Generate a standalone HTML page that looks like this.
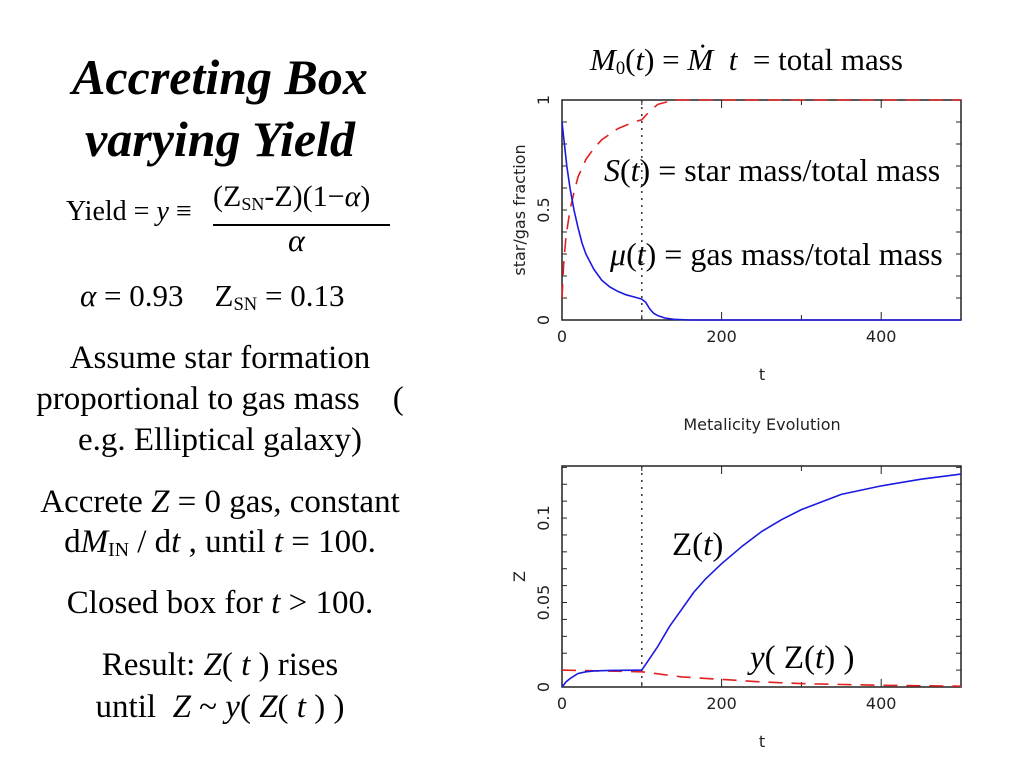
<!DOCTYPE html>
<html><head><meta charset="utf-8"><style>
body{margin:0;width:1024px;height:768px;background:#fff;position:relative;overflow:hidden;font-family:"Liberation Serif",serif;color:#000}
.t{position:absolute;white-space:nowrap}
.c{text-align:center;width:440px;left:0px}
i{font-style:italic}
sub{font-size:60%;vertical-align:-4px}
svg text{font-family:"DejaVu Sans","Liberation Sans",sans-serif;font-size:16px;fill:#222}
</style></head><body>
<div class="t c" style="top:46px;font-size:50px;font-weight:bold;font-style:italic;line-height:62px">Accreting Box<br>varying Yield</div>
<div class="t" style="left:66px;top:196px;font-size:28px">Yield = <i>y</i> ≡</div>
<div class="t" style="left:213px;top:180px;font-size:30px">(Z<sub>SN</sub>-Z)(1−<i>α</i>)</div>
<div style="position:absolute;left:213px;top:224px;width:177px;height:1.5px;background:#000"></div>
<div class="t" style="left:288px;top:222px;font-size:32px"><i>α</i></div>
<div class="t" style="left:80px;top:278px;font-size:31px"><i>α</i> = 0.93 &nbsp;&nbsp; Z<sub>SN</sub> = 0.13</div>
<div class="t c" style="top:338px;font-size:33px;line-height:41px">Assume star formation<br>proportional to gas mass &nbsp;&nbsp; (<br>e.g. Elliptical galaxy)</div>
<div class="t c" style="top:482px;font-size:33px;line-height:40px">Accrete <i>Z</i> = 0 gas, constant<br>d<i>M</i><sub>IN</sub> / d<i>t</i> , until <i>t</i> = 100.</div>
<div class="t c" style="top:585px;font-size:33px">Closed box for <i>t</i> &gt; 100.</div>
<div class="t c" style="top:644px;font-size:33px;line-height:42px">Result: <i>Z</i>( <i>t</i> ) rises<br>until &nbsp;<i>Z</i> ~ <i>y</i>( <i>Z</i>( <i>t</i> ) )</div>

<div class="t" style="left:590px;top:42px;font-size:31px"><i>M</i><sub>0</sub>(<i>t</i>) = <i>Ṁ</i> &nbsp;<i>t</i> &nbsp;= total mass</div>
<div class="t" style="left:604px;top:152px;font-size:32px"><i>S</i>(<i>t</i>) = star mass/total mass</div>
<div class="t" style="left:610px;top:236px;font-size:32px"><i>μ</i>(<i>t</i>) = gas mass/total mass</div>
<div class="t" style="left:672px;top:527px;font-size:33px">Z(<i>t</i>)</div>
<div class="t" style="left:750px;top:640px;font-size:33px"><i>y</i>( Z(<i>t</i>) )</div>

<svg id="svg" width="1024" height="768" style="position:absolute;left:0;top:0"></svg>
<script>
const tVals=[0,3,6,10,15,20,25,30,40,50,60,70,80,90,100,105,110,115,120,130,140,160,200,300,400,500];
const gasFrac=[0.9,0.8,0.7,0.6,0.5,0.42,0.35,0.3,0.23,0.18,0.15,0.13,0.115,0.105,0.095,0.08,0.05,0.03,0.02,0.008,0.003,0,0,0,0,0];
const sT=[0,2,5,10,15,20,30,40,50,70,90,100,110,120,140,200,500];
const starFrac=[0.1,0.25,0.38,0.5,0.58,0.65,0.73,0.78,0.82,0.87,0.9,0.91,0.95,0.98,1.0,1.0,1.0];
const zT=[0,5,10,20,30,40,60,100,110,120,135,150,165,180,200,225,250,275,300,350,400,450,500];
const zVals=[0,0.003,0.005,0.008,0.009,0.0095,0.0098,0.01,0.017,0.024,0.036,0.046,0.056,0.064,0.073,0.083,0.092,0.099,0.105,0.114,0.119,0.123,0.126];
const yT=[0,100,150,200,250,300,400,500];
const yVals=[0.01,0.009,0.006,0.0045,0.003,0.002,0.001,0.0005];
const xTicks=[0,200,400];
const topYTicks=[0,0.5,1];
const botYTicks=[0,0.05,0.1];
const svg=document.getElementById('svg');
const NS='http://www.w3.org/2000/svg';
function mk(tag,at){const e=document.createElementNS(NS,tag);for(const k in at)e.setAttribute(k,at[k]);svg.appendChild(e);return e;}
function panel(top,bot,ymax,yTicks,ylabel,minorY,name){
  const L=562,R=961;
  const sx=t=>L+(t/500)*(R-L);
  const sy=v=>bot-(v/ymax)*(bot-top);
  const f=mk('rect',{x:L,y:top,width:R-L,height:bot-top,fill:'none',stroke:'#222','stroke-width':1.5});
  
  
  for(let t=0;t<=500;t+=100){
    const len=t%200==0?8:5;
    mk('line',{x1:sx(t),x2:sx(t),y1:bot,y2:bot-len,stroke:'#222'});
    mk('line',{x1:sx(t),x2:sx(t),y1:top,y2:top+len,stroke:'#222'});
  }
  for(let v=0;v<=ymax+1e-9;v+=minorY){
    mk('line',{x1:L,x2:L+5,y1:sy(v),y2:sy(v),stroke:'#222'});
    mk('line',{x1:R,x2:R-5,y1:sy(v),y2:sy(v),stroke:'#222'});
  }
  xTicks.forEach(t=>{const e=mk('text',{x:sx(t),y:bot+22,'text-anchor':'middle'});e.textContent=t;
    });
  yTicks.forEach(v=>{const e=mk('text',{x:0,y:0,'text-anchor':'middle',transform:`translate(549,${sy(v)}) rotate(-90)`});e.textContent=v;
    });
  const xl=mk('text',{x:762,y:bot+60,'text-anchor':'middle'});xl.textContent='t';
  
  const yl=mk('text',{x:0,y:0,'text-anchor':'middle','font-size':17,transform:`translate(525,${(top+bot)/2}) rotate(-90)`});yl.textContent=ylabel;
  
  const vl=mk('line',{x1:sx(100),x2:sx(100),y1:top,y2:bot,stroke:'#333','stroke-dasharray':'2,5','stroke-width':1.5});
  
  return {sx,sy};
}
function line(ax,xs,ys,color,dash,name){
  const d=xs.map((t,i)=>(i?'L':'M')+ax.sx(t).toFixed(1)+','+ax.sy(ys[i]).toFixed(1)).join(' ');
  const p=mk('path',{d,fill:'none',stroke:color,'stroke-width':1.6,'stroke-dasharray':dash,'stroke-linejoin':'round'});
  
  
}
const a1=panel(100,320,1,topYTicks,'star/gas fraction',0.1,'fraction-chart');
line(a1,sT,starFrac,'#e02020','14,9','star-fraction-line');
line(a1,tVals,gasFrac,'#1a1ae0','','gas-fraction-line');
const a2=panel(466,687,0.1308,botYTicks,'Z',0.01,'metallicity-chart');
const tt=mk('text',{x:762,y:430,'text-anchor':'middle','font-size':15});tt.textContent='Metalicity Evolution';


line(a2,yT,yVals,'#e02020','14,9','yield-line');
line(a2,zT,zVals,'#1a1ae0','','metallicity-line');
</script>
</body></html>
